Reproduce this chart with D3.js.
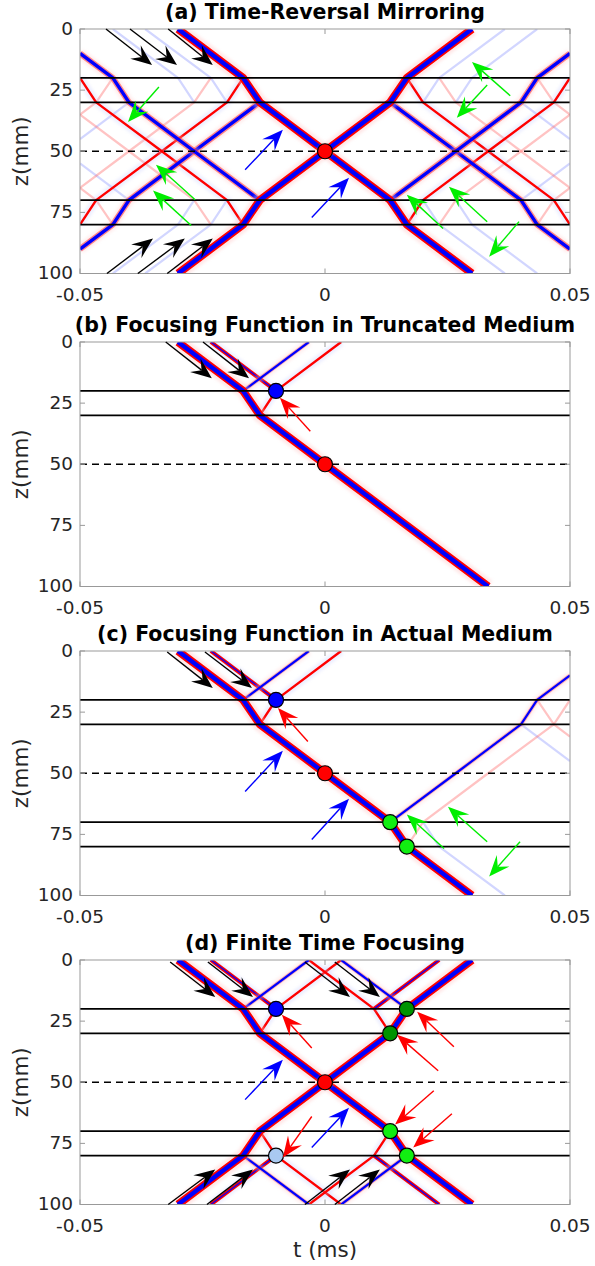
<!DOCTYPE html>
<html>
<head>
<meta charset="utf-8">
<script src="https://cdn.jsdelivr.net/npm/d3@7"></script>
<style>
  body { margin: 0; background: #fff; }
  text { font-family: "DejaVu Sans", sans-serif; }
</style>
</head>
<body>
<div id="chart"></div>
<script>
// axes
const tDomain = [-0.05, 0.05];
const zDomain = [0, 100];
const tTicks = [-0.05, 0, 0.05];
const zTicks = [0, 25, 50, 75, 100];
const tTickLabels = ["-0.05", "0", "0.05"];

const titles = [
  "(a) Time-Reversal Mirroring",
  "(b) Focusing Function in Truncated Medium",
  "(c) Focusing Function in Actual Medium",
  "(d) Finite Time Focusing"
];

// interfaces (mm) and focal depth
const interfacesFull = [20, 30, 70, 80];
const interfacesTrunc = [20, 30];
const focusDepth = 50;

// wavefronts, [t (ms), z (mm)]
// S strong, L strong secondary, B blue, R red, M coda, b/r faint
const directTrunc = [[-0.03, 0], [-0.0167, 20], [-0.0133, 30], [0, 50], [0.0333, 100]];
const directDown = [[-0.03, 0], [-0.0167, 20], [-0.0133, 30], [0, 50], [0.0133, 70], [0.0167, 80], [0.03, 100]];
const directUp = [[-0.03, 100], [-0.0167, 80], [-0.0133, 70], [0, 50], [0.0133, 30], [0.0167, 20], [0.03, 0]];

// upper part of the focusing function (b, c, d)
const focusEvents = [
  { k: "B", p: [[-0.0167, 20], [-0.0033, 0]] },
  { k: "R", p: [[-0.0133, 30], [-0.01, 20], [0.0033, 0]] },
  { k: "M", p: [[-0.0233, 0], [-0.01, 20]] }
];

// extra events of the actual medium (c)
const actualEvents = [
  { k: "B", p: [[0.0133, 70], [0.0267, 50], [0.04, 30], [0.0433, 20], [0.05, 10]] },
  { k: "r", p: [[0.0167, 80], [0.02, 70], [0.0333, 50], [0.0467, 30], [0.05, 20]] },
  { k: "b", p: [[0.02, 70], [0.0233, 80], [0.0367, 100]] },
  { k: "b", p: [[0.04, 30], [0.05, 45]] },
  { k: "r", p: [[0.0433, 20], [0.0467, 30], [0.05, 35]] }
];

// one quadrant of the time-reversal field (a), t > 0
const mirrorEvents = [
  { k: "L", p: [[0.0133, 30], [0.0267, 50], [0.04, 70], [0.0433, 80], [0.05, 90]] },
  { k: "R", p: [[0.0167, 20], [0.02, 30], [0.0333, 50], [0.0467, 70], [0.05, 80]] },
  { k: "b", p: [[0.02, 30], [0.0233, 20], [0.0367, 0]] },
  { k: "r", p: [[0.0233, 20], [0.0267, 30], [0.04, 50], [0.05, 65]] },
  { k: "b", p: [[0.0267, 30], [0.03, 20], [0.0433, 0]] },
  { k: "b", p: [[0.04, 70], [0.05, 55]] },
  { k: "r", p: [[0.0433, 80], [0.0467, 70], [0.05, 65]] }
];

// markers
const dotsA = [{ t: 0, z: 50, k: "red" }];
const dotsB = [{ t: 0, z: 50, k: "red" }, { t: -0.01, z: 20, k: "blue" }];
const dotsC = [{ t: 0, z: 50, k: "red" }, { t: -0.01, z: 20, k: "blue" },
  { t: 0.0133, z: 70, k: "green" }, { t: 0.0167, z: 80, k: "green" }];
const dotsD = [{ t: 0, z: 50, k: "red" }, { t: -0.01, z: 20, k: "blue" }, { t: -0.01, z: 80, k: "lightblue" },
  { t: 0.0167, z: 20, k: "darkgreen" }, { t: 0.0133, z: 30, k: "darkgreen" },
  { t: 0.0133, z: 70, k: "green" }, { t: 0.0167, z: 80, k: "green" }];

// annotation arrows, tail -> head
const arrowsA = [
  { k: "k", from: [-0.0447, 0], to: [-0.0353, 14.7] },
  { k: "k", from: [-0.0398, 0], to: [-0.0302, 14.7] },
  { k: "k", from: [-0.0320, 0], to: [-0.0229, 14.7] },
  { k: "k", from: [-0.0445, 100], to: [-0.0351, 85.7] },
  { k: "k", from: [-0.0382, 100], to: [-0.0286, 85.7] },
  { k: "k", from: [-0.0322, 100], to: [-0.0229, 85.7] },
  { k: "g", from: [-0.0339, 23.7], to: [-0.0402, 38.0] },
  { k: "g", from: [-0.0265, 69.8], to: [-0.0345, 55.5] },
  { k: "g", from: [-0.0273, 80.4], to: [-0.0351, 66.1] },
  { k: "g", from: [0.0378, 27.3], to: [0.0300, 13.5] },
  { k: "g", from: [0.0331, 22.9], to: [0.0269, 36.3] },
  { k: "g", from: [0.0241, 81.6], to: [0.0167, 67.8] },
  { k: "g", from: [0.0331, 78.8], to: [0.0253, 64.5] },
  { k: "g", from: [0.0396, 78.8], to: [0.0335, 93.1] },
  { k: "b", from: [-0.0163, 57.6], to: [-0.0086, 41.2] },
  { k: "b", from: [-0.0027, 77.1], to: [0.0049, 60.8] }
];
const arrowsB = [
  { k: "k", from: [-0.0325, 0], to: [-0.0231, 14.8] },
  { k: "k", from: [-0.0249, 0], to: [-0.0155, 14.8] },
  { k: "r", from: [-0.0030, 36.5], to: [-0.0092, 22.8] }
];
const arrowsC = [
  { k: "k", from: [-0.0322, 0.4], to: [-0.0229, 15.1] },
  { k: "k", from: [-0.0245, 0.4], to: [-0.0149, 15.1] },
  { k: "r", from: [-0.0035, 37], to: [-0.0096, 23.3] },
  { k: "b", from: [-0.0163, 57.5], to: [-0.0086, 40.8] },
  { k: "b", from: [-0.0027, 77.1], to: [0.0049, 60.4] },
  { k: "g", from: [0.0243, 80.8], to: [0.0167, 66.9] },
  { k: "g", from: [0.0331, 78.0], to: [0.0251, 63.7] },
  { k: "g", from: [0.0398, 78.0], to: [0.0335, 92.2] }
];
const arrowsD = [
  { k: "k", from: [-0.0316, 0.8], to: [-0.0224, 15.1] },
  { k: "k", from: [-0.0239, 0.8], to: [-0.0147, 15.1] },
  { k: "k", from: [-0.0041, 0.8], to: [0.0051, 15.1] },
  { k: "k", from: [0.0020, 0.8], to: [0.0112, 15.1] },
  { k: "k", from: [-0.0320, 100], to: [-0.0224, 85.7] },
  { k: "k", from: [-0.0241, 100], to: [-0.0147, 85.7] },
  { k: "k", from: [-0.0041, 100], to: [0.0051, 85.7] },
  { k: "k", from: [0.0020, 100], to: [0.0112, 85.7] },
  { k: "b", from: [-0.0163, 57.1], to: [-0.0086, 40.8] },
  { k: "b", from: [-0.0027, 76.7], to: [0.0049, 60.4] },
  { k: "r", from: [-0.0027, 36], to: [-0.0088, 22.4] },
  { k: "r", from: [-0.0027, 64], to: [-0.0086, 80.8] },
  { k: "r", from: [0.0263, 35.5], to: [0.0188, 21.2] },
  { k: "r", from: [0.0231, 45.3], to: [0.0147, 30.6] },
  { k: "r", from: [0.0222, 53.5], to: [0.0143, 67.3] },
  { k: "r", from: [0.0259, 62.9], to: [0.0180, 76.7] }
];

// ---- styles
const strokeStyles = {
  S: [{ c: "#ffc4c4", w: 14, o: 0.4, blur: true }, { c: "#ff0000", w: 8, o: 1 }, { c: "#0000ff", w: 4.4, o: 1 }],
  L: [{ c: "#ffc8c8", w: 10, o: 0.35, blur: true }, { c: "#ff2020", w: 6, o: 0.5 }, { c: "#0000ff", w: 3.4, o: 1 }],
  B: [{ c: "#ffcaca", w: 8, o: 0.3, blur: true }, { c: "#ff4040", w: 4, o: 0.35 }, { c: "#0000ff", w: 2.2, o: 1 }],
  R: [{ c: "#c4caff", w: 8, o: 0.3, blur: true }, { c: "#ff0000", w: 2.4, o: 1 }],
  M: [{ c: "#c8ceff", w: 9, o: 0.3, blur: true }, { c: "#ff0000", w: 4, o: 1 }, { c: "#0000ff", w: 1.4, o: 0.9 }],
  b: [{ c: "#6a78ff", w: 2.2, o: 0.3 }],
  r: [{ c: "#ff6a6a", w: 2.2, o: 0.4 }]
};
const dotColors = { red: "#ff0000", blue: "#0000ff", green: "#11ee11", darkgreen: "#009300", lightblue: "#a9c9f1" };
const arrowColors = { k: "#000000", g: "#00ee00", b: "#0000ff", r: "#ff0000" };

const mirT = p => p.map(([t, z]) => [-t, z]);
const mirZ = p => p.map(([t, z]) => [t, 100 - z]);
const withPts = (list, f) => list.map(e => ({ k: e.k, p: f(e.p) }));

const panels = [
  {
    top: 29,
    interfaces: interfacesFull,
    events: [
      ...mirrorEvents, ...withPts(mirrorEvents, mirT), ...withPts(mirrorEvents, mirZ),
      ...withPts(mirrorEvents, p => mirT(mirZ(p))),
      { k: "S", p: directDown }, { k: "S", p: directUp }
    ],
    dots: dotsA, arrows: arrowsA
  },
  {
    top: 342,
    interfaces: interfacesTrunc,
    events: [...focusEvents, { k: "S", p: directTrunc }],
    dots: dotsB, arrows: arrowsB
  },
  {
    top: 651,
    interfaces: interfacesFull,
    events: [...actualEvents, ...focusEvents, { k: "S", p: directDown }],
    dots: dotsC, arrows: arrowsC
  },
  {
    top: 960,
    interfaces: interfacesFull,
    events: [
      ...focusEvents, ...withPts(focusEvents, mirZ), ...withPts(focusEvents, mirT),
      ...withPts(focusEvents, p => mirT(mirZ(p))),
      { k: "S", p: directDown }, { k: "S", p: directUp }
    ],
    dots: dotsD, arrows: arrowsD
  }
];

const width = 595, height = 1266;
const plotH = 244.5;
const x = d3.scaleLinear().domain(tDomain).range([80, 570]);

const svg = d3.select("#chart").append("svg")
  .attr("width", width).attr("height", height);

const defs = svg.append("defs");
defs.append("filter").attr("id", "soft")
  .attr("x", "-20%").attr("y", "-20%").attr("width", "140%").attr("height", "140%")
  .append("feGaussianBlur").attr("stdDeviation", 1.6);

function drawArrow(g, x1, y1, x2, y2, color) {
  const ang = Math.atan2(y2 - y1, x2 - x1);
  const L = 21, hw = 8.5, notch = 13;
  g.append("line")
    .attr("x1", x1).attr("y1", y1)
    .attr("x2", x2 - Math.cos(ang) * notch).attr("y2", y2 - Math.sin(ang) * notch)
    .attr("stroke", color).attr("stroke-width", 1.4);
  g.append("path")
    .attr("d", `M0,0 L${-L},${-hw} L${-notch},0 L${-L},${hw} Z`)
    .attr("fill", color)
    .attr("transform", `translate(${x2},${y2}) rotate(${ang * 180 / Math.PI})`);
}

panels.forEach((pn, i) => {
  const y = d3.scaleLinear().domain(zDomain).range([pn.top, pn.top + plotH]);
  const g = svg.append("g");
  const clipId = "clip" + i;
  defs.append("clipPath").attr("id", clipId)
    .append("rect").attr("x", 80).attr("y", pn.top).attr("width", 490).attr("height", plotH);

  const line = d3.line().x(d => x(d[0])).y(d => y(d[1]));
  const waves = g.append("g").attr("clip-path", `url(#${clipId})`);

  // draw weaker events first, strong on top
  const order = ["b", "r", "R", "M", "B", "L", "S"];
  order.forEach(kind => {
    pn.events.filter(e => e.k === kind).forEach(e => {
      strokeStyles[kind].forEach(s => {
        waves.append("path")
          .attr("d", line(e.p))
          .attr("fill", "none")
          .attr("stroke", s.c)
          .attr("stroke-width", s.w)
          .attr("stroke-opacity", s.o)
          .attr("stroke-linejoin", "round")
          .attr("filter", s.blur ? "url(#soft)" : null);
      });
    });
  });

  // interfaces
  pn.interfaces.forEach(zi => {
    g.append("line")
      .attr("x1", 80).attr("x2", 570)
      .attr("y1", y(zi)).attr("y2", y(zi))
      .attr("stroke", "#000").attr("stroke-width", 1.8);
  });
  g.append("line")
    .attr("x1", 80).attr("x2", 570)
    .attr("y1", y(focusDepth)).attr("y2", y(focusDepth))
    .attr("stroke", "#000").attr("stroke-width", 1.7)
    .attr("stroke-dasharray", "7,5");

  // axes box and ticks
  g.append("rect")
    .attr("x", 80).attr("y", pn.top).attr("width", 490).attr("height", plotH)
    .attr("fill", "none").attr("stroke", "#999").attr("stroke-width", 1);
  tTicks.forEach(t => {
    g.append("line").attr("x1", x(t)).attr("x2", x(t))
      .attr("y1", pn.top + plotH).attr("y2", pn.top + plotH - 5).attr("stroke", "#999");
    g.append("line").attr("x1", x(t)).attr("x2", x(t))
      .attr("y1", pn.top).attr("y2", pn.top + 5).attr("stroke", "#999");
  });
  zTicks.forEach(v => {
    g.append("line").attr("x1", 80).attr("x2", 85)
      .attr("y1", y(v)).attr("y2", y(v)).attr("stroke", "#999");
    g.append("line").attr("x1", 570).attr("x2", 565)
      .attr("y1", y(v)).attr("y2", y(v)).attr("stroke", "#999");
    g.append("text")
      .attr("x", 73).attr("y", y(v) + 5.5)
      .attr("text-anchor", "end")
      .attr("font-size", 18.5).attr("fill", "#262626")
      .text(v);
  });
  tTicks.forEach((t, j) => {
    g.append("text")
      .attr("x", x(t)).attr("y", pn.top + plotH + 27.5)
      .attr("text-anchor", "middle")
      .attr("font-size", 18.5).attr("fill", "#262626")
      .text(tTickLabels[j]);
  });

  g.append("text")
    .attr("transform", `translate(28,${pn.top + plotH / 2}) rotate(-90)`)
    .attr("text-anchor", "middle")
    .attr("font-size", 21.5).attr("fill", "#262626")
    .text("z(mm)");

  g.append("text")
    .attr("x", 325).attr("y", pn.top - 10.5)
    .attr("text-anchor", "middle")
    .attr("font-size", 20.5).attr("font-weight", "bold").attr("fill", "#000")
    .text(titles[i]);

  // markers
  pn.dots.forEach(d => {
    g.append("circle")
      .attr("cx", x(d.t)).attr("cy", y(d.z)).attr("r", 7.5)
      .attr("fill", dotColors[d.k]).attr("stroke", "#000").attr("stroke-width", 1.2);
  });

  // annotation arrows
  pn.arrows.forEach(a => {
    drawArrow(g, x(a.from[0]), y(a.from[1]), x(a.to[0]), y(a.to[1]), arrowColors[a.k]);
  });
});

svg.append("text")
  .attr("x", 325).attr("y", 1257)
  .attr("text-anchor", "middle")
  .attr("font-size", 21.5).attr("fill", "#262626")
  .text("t (ms)");
</script>
</body>
</html>
